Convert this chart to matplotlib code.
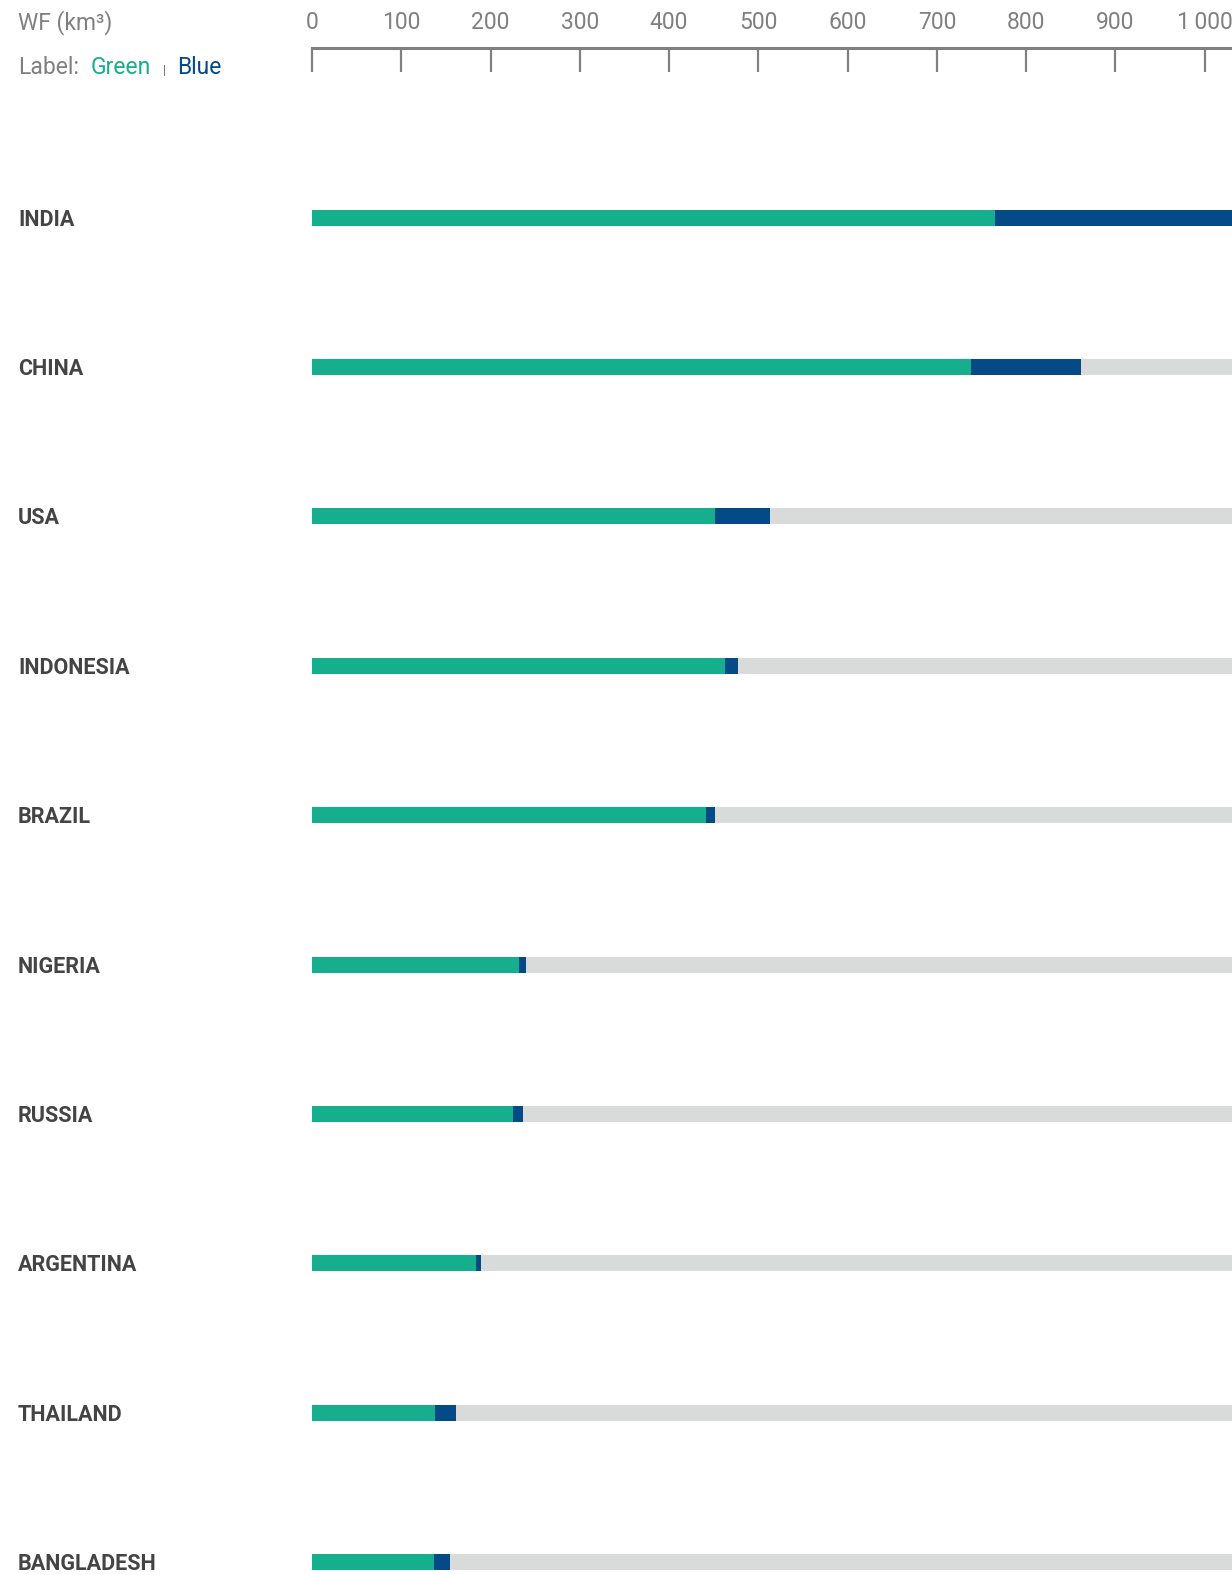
import matplotlib.pyplot as plt
from matplotlib.transforms import blended_transform_factory

plt.rcParams['font.family'] = ['Roboto', 'DejaVu Sans']

# water footprint of crop production, km3
countries = ['INDIA', 'CHINA', 'USA', 'INDONESIA', 'BRAZIL', 'NIGERIA',
             'RUSSIA', 'ARGENTINA', 'THAILAND', 'BANGLADESH']
green = [765, 738, 451, 463, 441, 232, 225, 184, 138, 137]
blue = [290, 123, 62, 14, 10, 8, 11, 5, 23, 18]
ticks = [0, 100, 200, 300, 400, 500, 600, 700, 800, 900, 1000]
tick_labels = ['0', '100', '200', '300', '400', '500', '600', '700', '800', '900', '1\u2009000']

GREEN = '#16ae8c'
BLUE = '#034a87'
GREY_BAR = '#d9dada'
AXIS = '#808080'
TEXT = '#444444'

W, H = 1232, 1575
fig = plt.figure(figsize=(W / 100, H / 100), dpi=100)

xmax = (W - 312) / 0.8926
row0, step = 217.6, 149.4

# main bar area covers the whole figure height, rows in data units
ax = fig.add_axes([312 / W, 0, 1 - 312 / W, 1])
ax.set_xlim(0, xmax)
ax.set_ylim((H - row0) / step, -row0 / step)
ax.axis('off')

ys = list(range(len(countries)))
bh = 16 / step
ax.barh(ys, [xmax] * len(ys), height=bh, color=GREY_BAR, linewidth=0)
ax.barh(ys, green, height=bh, color=GREEN, linewidth=0)
ax.barh(ys, blue, left=green, height=bh, color=BLUE, linewidth=0)

lab_tr = blended_transform_factory(fig.transFigure, ax.transData)
for y, name in zip(ys, countries):
    ax.text(18 / W, y + 2 / step, name, transform=lab_tr, ha='left', va='center',
            fontsize=15.5, fontweight='bold', color=TEXT, clip_on=False)

# scale axis at the top
sc = fig.add_axes([312 / W, (H - 72) / H, 1 - 312 / W, 24 / H])
sc.set_xlim(0, xmax)
sc.set_ylim(0, 1)
for s in ['left', 'right', 'bottom']:
    sc.spines[s].set_visible(False)
sc.spines['top'].set_color(AXIS)
sc.spines['top'].set_linewidth(2.2)
sc.set_yticks([])
sc.xaxis.tick_top()
sc.set_xticks(ticks)
sc.set_xticklabels(tick_labels)
sc.tick_params(axis='x', direction='in', length=17.5, width=1.6, color=AXIS,
               pad=10, labelsize=16.5, labelcolor=AXIS)

fig.text(18 / W, 1 - 23 / H, 'WF (km\u00b3)', fontsize=16.5, color=AXIS,
         ha='left', va='center')
fig.text(18 / W, 1 - 68 / H, 'Label:', fontsize=16.5, color=AXIS, ha='left', va='center')
fig.text(91 / W, 1 - 68 / H, 'Green', fontsize=16.5, color=GREEN, ha='left', va='center')
fig.text(164 / W, 1 - 70 / H, '|', fontsize=9, color='#666666', ha='center', va='center')
fig.text(177 / W, 1 - 68 / H, 'Blue', fontsize=16.5, color=BLUE, ha='left', va='center')

fig.savefig('out.png', dpi=100)
